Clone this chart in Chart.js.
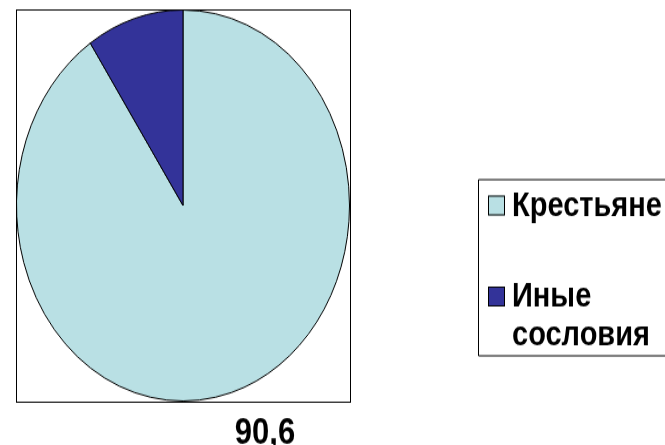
<!DOCTYPE html>
<html>
<head>
<meta charset="utf-8">
<script src="https://cdn.jsdelivr.net/npm/chart.js@4.4.1/dist/chart.umd.min.js"></script>
<style>
  html, body { margin: 0; padding: 0; background: #fff; overflow: hidden; }
  #wrap { width: 665px; height: 445px; overflow: hidden; }
  #c { display: block; transform: scaleY(1.1742); transform-origin: 0 0; }
</style>
</head>
<body>
<div id="wrap"><canvas id="c" width="665" height="379"></canvas></div>
<script>
const categories = ['Крестьяне', 'Иные сословия'];
const legendLines = [['Крестьяне'], ['Иные', 'сословия']];
const values = [90.6, 9.4];
const sliceColors = ['#B9E0E4', '#333399'];
const shownLabels = ['90,6'];

const FONT = '"Liberation Sans", Arial, sans-serif';

const framePlugin = {
  id: 'frame',
  afterDraw(chart) {
    const ctx = chart.ctx;
    const a = chart.chartArea;
    ctx.save();
    ctx.strokeStyle = '#000';
    ctx.lineWidth = 1;
    ctx.strokeRect(Math.round(a.left) + 0.5, Math.round(a.top) + 0.5,
                   Math.round(a.right - a.left), Math.round(a.bottom - a.top));
    // data label for the large slice
    const arc = chart.getDatasetMeta(0).data[0];
    ctx.fillStyle = '#000';
    ctx.font = 'bold 31px ' + FONT;
    ctx.textAlign = 'center';
    ctx.textBaseline = 'alphabetic';
    ctx.fillText(shownLabels[0], arc.x + 82, a.bottom + 36);

    // legend
    const lx = a.right + 128, ly = a.top + 144.5;
    ctx.beginPath();
    ctx.rect(lx + 0.5, ly + 0.5, 200, 150);
    ctx.stroke();
    const baselines = [ly + 31, ly + 108.5];
    const lineGap = 33.2;
    ctx.font = 'bold 29px ' + FONT;
    ctx.textAlign = 'left';
    legendLines.forEach((lines, i) => {
      const b = baselines[i];
      ctx.fillStyle = sliceColors[i];
      ctx.fillRect(lx + 10, b - 17, 17, 17);
      ctx.strokeStyle = '#000';
      ctx.strokeRect(lx + 10.5, b - 16.5, 16, 16);
      ctx.fillStyle = '#000';
      lines.forEach((t, j) => ctx.fillText(t, lx + 34, b + j * lineGap));
    });
    ctx.restore();
  }
};

new Chart(document.getElementById('c'), {
  type: 'pie',
  data: {
    labels: categories,
    datasets: [{
      data: values,
      backgroundColor: sliceColors,
      borderColor: '#000',
      borderWidth: 1
    }]
  },
  options: {
    responsive: false,
    animation: false,
    events: [],
    layout: { padding: { left: 16, right: 315, top: 8, bottom: 37 } },
    plugins: {
      legend: { display: false },
      tooltip: { enabled: false }
    }
  },
  plugins: [framePlugin]
});
</script>
</body>
</html>
